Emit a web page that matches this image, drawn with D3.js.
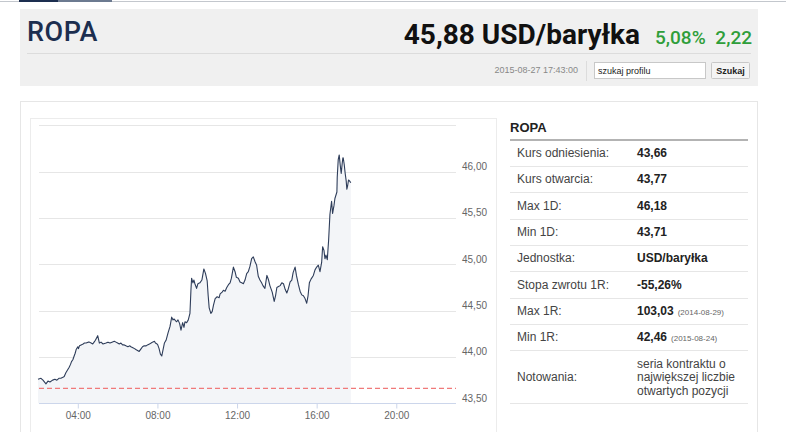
<!DOCTYPE html>
<html>
<head>
<meta charset="utf-8">
<script src="https://cdn.jsdelivr.net/npm/d3@7"></script>
<style>
  body { margin: 0; background: #fff; }
  svg { display: block; font-family: 'Liberation Sans', Arial, sans-serif; }
</style>
</head>
<body>
<svg width="786" height="432"></svg>
<script>
// intraday quotes, 2015-08-27
let times = [
  '02:00','02:09','02:15','02:24','02:30','02:36','02:44','02:51','02:57','03:03',
  '03:09','03:15','03:19','03:24','03:29','03:34','03:38','03:41','03:45','03:49',
  '03:52','03:55','04:00','04:02','04:05','04:10','04:16','04:20','04:25','04:31',
  '04:35','04:40','04:45','04:49','04:53','05:00','05:05','05:10','05:16','05:25',
  '05:31','05:37','05:43','05:50','05:55','06:00','06:05','06:10','06:15','06:20',
  '06:25','06:31','06:37','06:40','06:46','06:51','06:55','07:00','07:05','07:11',
  '07:15','07:20','07:26','07:30','07:36','07:41','07:45','07:51','07:54','07:59',
  '08:01','08:05','08:09','08:13','08:17','08:21','08:26','08:32','08:38','08:43',
  '08:47','08:50','08:55','08:58','09:02','09:07','09:11','09:16','09:20','09:23',
  '09:28','09:33','09:38','09:41','09:43','09:47','09:50','09:53','09:58','10:02',
  '10:08','10:14','10:20','10:25','10:30','10:33','10:36','10:41','10:45','10:49',
  '10:54','11:00','11:06','11:09','11:15','11:19','11:24','11:29','11:34','11:39',
  '11:43','11:49','11:54','11:58','12:04','12:09','12:14','12:19','12:24','12:29',
  '12:34','12:39','12:44','12:49','12:54','12:59','13:04','13:09','13:14','13:18',
  '13:24','13:30','13:35','13:39','13:46','13:52','13:56','14:00','14:05','14:10',
  '14:15','14:20','14:25','14:30','14:34','14:40','14:45','14:49','14:55','14:59',
  '15:05','15:10','15:15','15:20','15:25','15:30','15:34','15:38','15:43','15:50',
  '15:55','16:00','16:05','16:10','16:15','16:18','16:22','16:25','16:28','16:32',
  '16:36','16:40','16:45','16:48','16:52','16:55','17:01','17:02','17:05','17:08',
  '17:11','17:14','17:17','17:19','17:20','17:23','17:26','17:29','17:31','17:33',
  '17:36','17:39','17:43'
];
let prices = [
  43.76,43.77,43.75,43.71,43.74,43.73,43.75,43.76,43.75,43.77,
  43.77,43.78,43.79,43.83,43.86,43.89,43.92,43.95,43.97,44.01,
  44.04,44.08,44.11,44.09,44.12,44.13,44.14,44.15,44.15,44.16,
  44.16,44.15,44.14,44.16,44.18,44.23,44.15,44.16,44.14,44.15,
  44.16,44.15,44.16,44.17,44.16,44.15,44.14,44.15,44.13,44.13,
  44.12,44.11,44.12,44.11,44.10,44.09,44.08,44.07,44.06,44.09,
  44.11,44.12,44.12,44.13,44.14,44.15,44.16,44.17,44.15,44.14,
  44.13,44.09,44.03,44.01,44.08,44.15,44.18,44.26,44.33,44.43,
  44.40,44.41,44.39,44.38,44.40,44.36,44.29,44.37,44.32,44.38,
  44.37,44.40,44.47,44.72,44.85,44.80,44.83,44.79,44.74,44.79,
  44.80,44.83,44.95,44.90,44.82,44.66,44.53,44.47,44.49,44.56,
  44.63,44.65,44.64,44.68,44.70,44.72,44.71,44.75,44.78,44.80,
  44.85,44.97,44.92,44.86,44.85,44.81,44.80,44.79,44.83,44.90,
  44.92,44.98,45.06,45.08,45.03,44.99,44.87,44.83,44.80,44.77,
  44.74,44.88,44.83,44.77,44.70,44.60,44.66,44.75,44.76,44.77,
  44.80,44.79,44.73,44.69,44.73,44.81,44.83,44.91,44.97,44.88,
  44.78,44.71,44.67,44.66,44.63,44.58,44.66,44.80,44.84,44.88,
  44.94,44.97,44.99,44.92,45.02,45.19,45.15,45.06,45.10,45.05,
  45.26,45.54,45.68,45.55,45.63,45.71,45.78,45.94,46.13,46.18,
  46.07,45.98,46.09,46.15,46.15,46.08,45.98,45.90,45.81,45.84,
  45.91,45.90,45.88
];
let refPrice = 43.66;
let yTicks = [43.5, 44, 44.5, 45, 45.5, 46, 46.5];
let yLabelTicks = [43.5, 44, 44.5, 45, 45.5, 46];
let timeRange = ['02:00', '23:00'];

// side table
let rowLabels = ['Kurs odniesienia:', 'Kurs otwarcia:', 'Max 1D:', 'Min 1D:', 'Jednostka:',
  'Stopa zwrotu 1R:', 'Max 1R:', 'Min 1R:', 'Notowania:'];
let rowValues = ['43,66', '43,77', '46,18', '43,71', 'USD/baryłka', '-55,26%', '103,03', '42,46', ''];
let rowNotes = ['', '', '', '', '', '', '(2014-08-29)', '(2015-08-24)', ''];
let quoteNote = ['seria kontraktu o', 'największej liczbie', 'otwartych pozycji'];

let svg = d3.select('svg');
let parseTime = d3.timeParse('%H:%M');
let data = times.map((t, i) => ({ t: parseTime(t), v: prices[i] }));
let comma = (d) => d3.format('.2f')(d).replace('.', ',');

// top tab strip
svg.append('rect').attr('x', 0).attr('y', 1).attr('width', 786).attr('height', 1).attr('fill', '#c3c7cd');
svg.append('rect').attr('x', 19).attr('y', 0).attr('width', 39).attr('height', 2).attr('fill', '#1c2e4f');
svg.append('rect').attr('x', 58).attr('y', 0).attr('width', 54).attr('height', 2).attr('fill', '#6c7a90');

// header box
let head = svg.append('g');
head.append('rect').attr('x', 20).attr('y', 9).attr('width', 738).attr('height', 77).attr('fill', '#f0f0f0');
head.append('line').attr('x1', 27).attr('x2', 751).attr('y1', 53.5).attr('y2', 53.5).attr('stroke', '#dcdcdc');
head.append('text').attr('x', 27).attr('y', 41)
    .style('font-family', 'Roboto, sans-serif').style('font-size', '27px').style('font-weight', 500)
    .style('letter-spacing', '0.6px')
    .attr('fill', '#1c2e4f').text('ROPA');
head.append('text').attr('x', 640).attr('y', 44).attr('text-anchor', 'end')
    .style('font-family', 'Roboto, sans-serif').style('font-size', '28px').style('font-weight', 700)
    .attr('fill', '#111').text('45,88 USD/baryłka');
head.append('text').attr('x', 655).attr('y', 44)
    .style('font-family', 'Roboto, sans-serif').style('font-size', '19px').style('font-weight', 500)
    .attr('fill', '#2f9e3a').text('5,08%');
head.append('text').attr('x', 752).attr('y', 44).attr('text-anchor', 'end')
    .style('font-family', 'Roboto, sans-serif').style('font-size', '19px').style('font-weight', 500)
    .attr('fill', '#2f9e3a').text('2,22');
head.append('text').attr('x', 578).attr('y', 73).attr('text-anchor', 'end')
    .style('font-size', '9px').attr('fill', '#888').text('2015-08-27 17:43:00');
head.append('line').attr('x1', 586.5).attr('x2', 586.5).attr('y1', 61).attr('y2', 81).attr('stroke', '#dcdcdc');
head.append('rect').attr('x', 594.5).attr('y', 62.5).attr('width', 111).attr('height', 16)
    .attr('fill', '#fff').attr('stroke', '#c8c8c8');
head.append('text').attr('x', 598).attr('y', 73.5).style('font-size', '9px').attr('fill', '#222').text('szukaj profilu');
head.append('rect').attr('x', 711.5).attr('y', 62.5).attr('width', 38).attr('height', 16).attr('rx', 1)
    .attr('fill', '#f4f4f4').attr('stroke', '#c8c8c8');
head.append('text').attr('x', 730.5).attr('y', 73.5).attr('text-anchor', 'middle')
    .style('font-size', '9px').style('font-weight', 700).attr('fill', '#222').text('Szukaj');

// panels
svg.append('rect').attr('x', 20.5).attr('y', 101.5).attr('width', 737).attr('height', 340)
    .attr('fill', '#fff').attr('stroke', '#e6e6e6');
svg.append('rect').attr('x', 30.5).attr('y', 118.5).attr('width', 466).attr('height', 330)
    .attr('fill', '#fff').attr('stroke', '#ececec');

// chart
let x = d3.scaleTime().domain(timeRange.map(parseTime)).range([38, 456]);
let y = d3.scaleLinear().domain([43.5, 46.5]).range([403.3, 125.3]);
let chart = svg.append('g');

chart.selectAll('.grid')
    .data(yTicks.slice(1))
  .enter().append('line')
    .attr('x1', 39).attr('x2', 456)
    .attr('y1', (d) => Math.round(y(d)) + 0.5).attr('y2', (d) => Math.round(y(d)) + 0.5)
    .attr('stroke', '#e6e6e6');

let area = d3.area().x((d) => x(d.t)).y0(y(43.5)).y1((d) => y(d.v));
chart.append('path').datum(data).attr('d', area).attr('fill', '#f3f5f8');

chart.append('line')
    .attr('x1', 39).attr('x2', 456)
    .attr('y1', y(refPrice)).attr('y2', y(refPrice))
    .attr('stroke', '#f07a7a').attr('stroke-width', 1.2).attr('stroke-dasharray', '5,3');

let line = d3.line().x((d) => x(d.t)).y((d) => y(d.v));
chart.append('path').datum(data).attr('d', line)
    .attr('fill', 'none').attr('stroke', '#2e3d5a').attr('stroke-width', 1.1).attr('stroke-linejoin', 'round');

// x axis
let xAxis = d3.axisBottom(x)
    .ticks(d3.timeHour.every(4))
    .tickFormat(d3.timeFormat('%H:%M'))
    .tickSize(5).tickPadding(3);
let gx = chart.append('g').attr('transform', `translate(0, ${Math.round(y(43.5)) + 0.5})`).call(xAxis);
gx.select('.domain').attr('stroke', '#ccd6eb').attr('d', 'M39,0H456');
gx.selectAll('.tick line').attr('stroke', '#ccd6eb');
gx.selectAll('.tick text').attr('fill', '#666').style('font-size', '10px');

// y labels
chart.selectAll('.ylab')
    .data(yLabelTicks)
  .enter().append('text')
    .attr('x', 462).attr('y', (d) => y(d) - 1.5)
    .style('font-size', '10px').attr('fill', '#666')
    .text(comma);

// side table
let tab = svg.append('g');
let rowY = (i) => 157 + i * 26.3;
tab.append('text').attr('x', 510).attr('y', 132)
    .style('font-size', '13px').style('font-weight', 700).attr('fill', '#222').text('ROPA');
tab.append('line').attr('x1', 510).attr('x2', 748).attr('y1', 140).attr('y2', 140)
    .attr('stroke', '#9a9a9a').attr('stroke-width', 1.5);
tab.selectAll('.sep')
    .data(rowLabels.slice(0, 8))
  .enter().append('line')
    .attr('x1', 510).attr('x2', 748)
    .attr('y1', (d, i) => Math.round(rowY(i) + 9) + 0.5).attr('y2', (d, i) => Math.round(rowY(i) + 9) + 0.5)
    .attr('stroke', '#e6e6e6');
tab.append('line').attr('x1', 510).attr('x2', 748).attr('y1', 403.5).attr('y2', 403.5).attr('stroke', '#e6e6e6');

tab.selectAll('.lab')
    .data(rowLabels)
  .enter().append('text')
    .attr('x', 517).attr('y', (d, i) => i < 8 ? rowY(i) : 381)
    .style('font-size', '12px').attr('fill', '#444')
    .text((d) => d);

let vals = tab.selectAll('.val')
    .data(rowValues.slice(0, 8))
  .enter().append('text')
    .attr('x', 637).attr('y', (d, i) => rowY(i))
    .style('font-size', '12px').style('font-weight', 700).attr('fill', '#222')
    .text((d) => d);
vals.append('tspan')
    .attr('dx', (d, i) => rowNotes[i] ? 4 : 0)
    .style('font-size', '8px').style('font-weight', 400).attr('fill', '#666')
    .text((d, i) => rowNotes[i]);

tab.selectAll('.note')
    .data(quoteNote)
  .enter().append('text')
    .attr('x', 637).attr('y', (d, i) => 367.5 + i * 13.5)
    .style('font-size', '12px').attr('fill', '#444')
    .text((d) => d);
</script>
</body>
</html>
